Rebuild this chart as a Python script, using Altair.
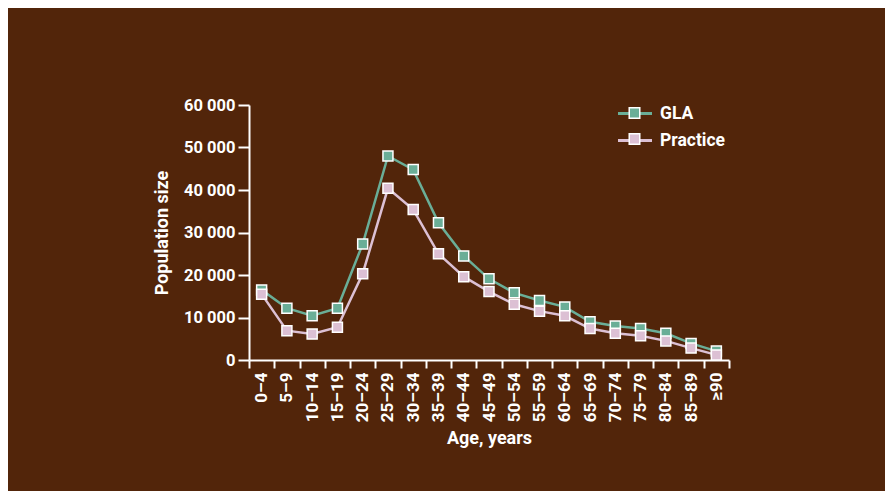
import altair as alt
import pandas as pd

ages = ["0–4", "5–9", "10–14", "15–19", "20–24", "25–29", "30–34", "35–39",
        "40–44", "45–49", "50–54", "55–59", "60–64", "65–69", "70–74",
        "75–79", "80–84", "85–89", "≥90"]
gla = [16500, 12200, 10400, 12200, 27300, 48000, 44800, 32300, 24500, 19100,
       15800, 14000, 12500, 9000, 8000, 7400, 6300, 3900, 2100]
practice = [15500, 6900, 6100, 7700, 20300, 40400, 35400, 25000, 19600, 16100,
            13100, 11500, 10400, 7400, 6300, 5700, 4500, 2800, 1200]
series = ["GLA", "Practice"]
colors = ["#6aae97", "#dcc0d4"]
y_ticks = [0, 10000, 20000, 30000, 40000, 50000, 60000]

rows = []
for s, vals in zip(series, [gla, practice]):
    for a, v in zip(ages, vals):
        rows.append({"age": a, "value": v, "series": s})
df = pd.DataFrame(rows)

FONT = "Roboto"
WHITE = "#ffffff"
BG = "#52250a"

x_enc = alt.X(
    "age:N",
    bandPosition=0.5,
    scale=alt.Scale(type="band", domain=ages, paddingInner=0, paddingOuter=0),
    axis=alt.Axis(
        title="Age, years",
        tickBand="extent",
        labelAngle=270,
        labelAlign="right",
        labelBaseline="middle",
        labelPadding=4,
        labelFontSize=17,
        tickSize=8,
        tickWidth=2,
        domainWidth=2,
        titlePadding=8,
    ),
)
y_enc = alt.Y(
    "value:Q",
    scale=alt.Scale(domain=[0, 60000], nice=False),
    axis=alt.Axis(
        title="Population size",
        values=y_ticks,
        labelExpr="replace(format(datum.value, ','), ',', ' ')",
        labelFontSize=16.5,
        tickSize=11,
        tickWidth=2,
        domainWidth=2,
        labelPadding=3,
        titlePadding=12,
    ),
)

legend_common = dict(
    title=None,
    orient="none",
    legendX=376,
    legendY=-1.5,
    padding=0,
    symbolSize=289,
    labelOffset=15,
    rowPadding=8,
    labelFontSize=17.5,
    labelFont=FONT,
    labelFontWeight="bold",
    labelColor=WHITE,
)

lines = alt.Chart(df).mark_line(strokeWidth=2.5).encode(
    x=x_enc,
    y=y_enc,
    stroke=alt.Stroke(
        "series:N",
        scale=alt.Scale(domain=series, range=colors),
        legend=alt.Legend(
            symbolType="M-2,0H2",
            symbolStrokeWidth=3,
            **legend_common,
        ),
    ),
    order=alt.Order("series:N"),
)

points = alt.Chart(df).mark_point(
    shape="square", filled=True, size=100, stroke=WHITE, strokeWidth=1.5, opacity=1
).encode(
    x=x_enc,
    y=y_enc,
    fill=alt.Fill(
        "series:N",
        scale=alt.Scale(domain=series, range=colors),
        legend=alt.Legend(
            symbolType="M-0.62,-0.62H0.62V0.62H-0.62Z",
            symbolStrokeColor=WHITE,
            symbolStrokeWidth=1.5,
            symbolOpacity=1,
            labelOpacity=0,
            **legend_common,
        ),
    ),
    order=alt.Order("series:N"),
)

chart = (
    alt.layer(lines, points)
    .resolve_scale(stroke="independent", fill="independent")
    .properties(
        width=480,
        height=255,
        autosize=alt.AutoSizeParams(type="none"),
        padding={"left": 241, "top": 97, "right": 156, "bottom": 131},
        background=BG,
    )
    .configure_view(stroke=None)
    .configure_axis(
        domainColor=WHITE,
        tickColor=WHITE,
        labelColor=WHITE,
        titleColor=WHITE,
        labelFont=FONT,
        titleFont=FONT,
        titleFontSize=18,
        labelFontWeight="bold",
        titleFontWeight="bold",
        grid=False,
    )
)

chart.save("out.html", embed_options={"renderer": "svg", "actions": False})
